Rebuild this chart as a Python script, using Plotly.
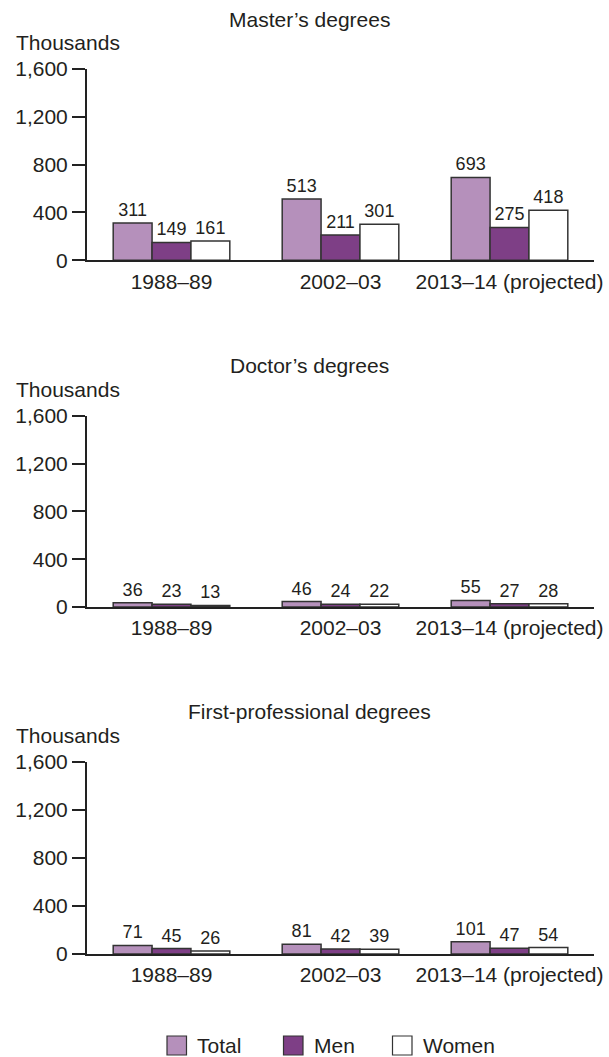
import plotly.graph_objects as go

# ---- data ----
categories = ["1988\u201389", "2002\u201303", "2013\u201314 (projected)"]
panel_titles = ["Master\u2019s degrees", "Doctor\u2019s degrees", "First-professional degrees"]
series_names = ["Total", "Men", "Women"]

masters_total = [311, 513, 693]
masters_men = [149, 211, 275]
masters_women = [161, 301, 418]

doctors_total = [36, 46, 55]
doctors_men = [23, 24, 27]
doctors_women = [13, 22, 28]

firstprof_total = [71, 81, 101]
firstprof_men = [45, 42, 47]
firstprof_women = [26, 39, 54]

y_ticks = [0, 400, 800, 1200, 1600]
y_tick_labels = ["0", "400", "800", "1,200", "1,600"]

# ---- styling ----
W, H = 609, 1057
ML, MR = 87, 15
PW = W - ML - MR
FONT = "Liberation Sans, Arial, Helvetica, sans-serif"
TXT = "#231f20"
colors = {"Total": "#b590bb", "Men": "#7e3f86", "Women": "#ffffff"}
OUTLINE = "#333333"
FS = 21


def px_x(p):
    return (p - ML) / PW


def px_y(p):
    return 1 - p / H


panels = [
    (masters_total, masters_men, masters_women),
    (doctors_total, doctors_men, doctors_women),
    (firstprof_total, firstprof_men, firstprof_women),
]
# pixel positions (top of 1,600 tick, zero line)
panel_px = [(69, 260.3), (415.7, 607), (761.7, 954)]

fig = go.Figure()
annotations = []
shapes = []

for i, (vals, (top, bot)) in enumerate(zip(panels, panel_px)):
    n = "" if i == 0 else str(i + 1)
    for name, v in zip(series_names, vals):
        fig.add_trace(go.Bar(
            x=categories, y=v, name=name,
            xaxis="x" + n, yaxis="y" + n,
            marker=dict(color=colors[name], line=dict(color=OUTLINE, width=1.5)),
            text=[str(a) for a in v], textposition="outside",
            textfont=dict(size=18, color=TXT, family=FONT),
            constraintext="none", cliponaxis=False,
            showlegend=False, hoverinfo="skip",
        ))
    fig.update_layout(**{
        "xaxis" + n: dict(
            domain=[0, 1], anchor="y" + n, range=[-0.5, 2.5],
            showline=True, linecolor="#222", linewidth=2,
            ticks="outside", ticklen=1, tickcolor="rgba(0,0,0,0)",
            tickfont=dict(size=FS, color=TXT, family=FONT),
            showgrid=False, zeroline=False, fixedrange=True, automargin=False,
        ),
        "yaxis" + n: dict(
            domain=[px_y(bot), px_y(top)], anchor="x" + n, range=[0, 1600],
            tickvals=y_ticks, ticktext=y_tick_labels,
            showline=True, linecolor="#222", linewidth=2,
            ticks="outside", ticklen=13, tickwidth=1.5, tickcolor="#222",
            tickfont=dict(size=FS, color=TXT, family=FONT),
            showgrid=False, zeroline=False, fixedrange=True, automargin=False,
        ),
    })
    annotations.append(dict(
        text=panel_titles[i], xref="paper", yref="paper",
        x=px_x(309.5), y=px_y(top - 50), xanchor="center", yanchor="middle",
        showarrow=False, font=dict(size=FS, color=TXT, family=FONT),
    ))
    annotations.append(dict(
        text="Thousands", xref="paper", yref="paper",
        x=px_x(14), y=px_y(top - 26), xanchor="left", yanchor="middle",
        showarrow=False, font=dict(size=FS, color=TXT, family=FONT),
    ))

# ---- legend (drawn manually) ----
legend_items = [("Total", 167, 195), ("Men", 283.5, 312), ("Women", 392.5, 421)]
for name, sx, tx in legend_items:
    shapes.append(dict(
        type="rect", xref="paper", yref="paper",
        x0=px_x(sx), x1=px_x(sx + 19.5), y0=px_y(1055), y1=px_y(1036),
        fillcolor=colors[name], line=dict(color=OUTLINE, width=1.2),
    ))
    annotations.append(dict(
        text=name, xref="paper", yref="paper",
        x=px_x(tx), y=px_y(1045.5), xanchor="left", yanchor="middle",
        showarrow=False, font=dict(size=FS, color=TXT, family=FONT),
    ))

fig.update_layout(
    width=W, height=H,
    margin=dict(l=ML, r=MR, t=0, b=0, pad=0, autoexpand=False),
    barmode="group", bargap=0.31, bargroupgap=0,
    paper_bgcolor="white", plot_bgcolor="white",
    font=dict(family=FONT, color=TXT),
    annotations=annotations, shapes=shapes,
    showlegend=False, hovermode=False,
)

fig.write_html(
    "out.html",
    config={"displayModeBar": False},
    post_script="document.body.style.margin='0';document.body.style.overflow='hidden';",
)
